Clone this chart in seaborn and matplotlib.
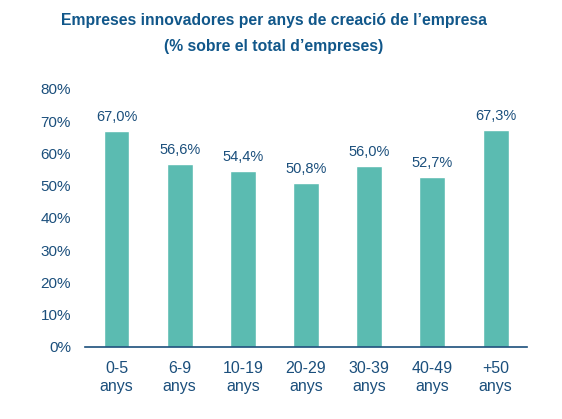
import matplotlib.pyplot as plt
import seaborn as sns
import pandas as pd

sns.set_style("white")
plt.rcParams["font.family"] = ["Liberation Sans", "DejaVu Sans"]

categories = ["0-5\nanys", "6-9\nanys", "10-19\nanys", "20-29\nanys",
              "30-39\nanys", "40-49\nanys", "+50\nanys"]
values = [67.0, 56.6, 54.4, 50.8, 56.0, 52.7, 67.3]
yticks = [0, 10, 20, 30, 40, 50, 60, 70, 80]

df = pd.DataFrame({"grup": categories, "valor": values})

text_col = "#1B4F7C"
title_col = "#11578A"
bar_col = "#5BBBB1"

fig = plt.figure(figsize=(5.62, 4.19), dpi=100)
ax = fig.add_axes([0.151, 0.172, 0.787, 0.616])
sns.barplot(data=df, x="grup", y="valor", color=bar_col, width=0.41,
            saturation=1, ax=ax)

for i, v in enumerate(values):
    ax.text(i, v + 2.2, f"{v:.1f}%".replace(".", ","), ha="center", va="bottom",
            fontsize=10.5, color=text_col)

ax.set_xlim(-0.5, 6.5)
ax.set_ylim(0, 80)
ax.set_yticks(yticks)
ax.set_yticklabels([f"{t}%" for t in yticks])
ax.set_xlabel("")
ax.set_ylabel("")
ax.tick_params(axis="both", length=0, colors=text_col)
ax.tick_params(axis="y", pad=10, labelsize=11)
ax.tick_params(axis="x", pad=10, labelsize=11.5)
for lab in ax.get_xticklabels():
    lab.set_linespacing(1.3)
for s in ["top", "right", "left"]:
    ax.spines[s].set_visible(False)
ax.spines["bottom"].set_color(text_col)
ax.spines["bottom"].set_linewidth(1.2)

fig.text(0.487, 0.951, "Empreses innovadores per anys de creació de l’empresa",
         ha="center", va="center", fontsize=11.3, fontweight="bold", color=title_col)
fig.text(0.487, 0.889, "(% sobre el total d’empreses)",
         ha="center", va="center", fontsize=11.3, fontweight="bold", color=title_col)

fig.savefig("out.png", dpi=100)
